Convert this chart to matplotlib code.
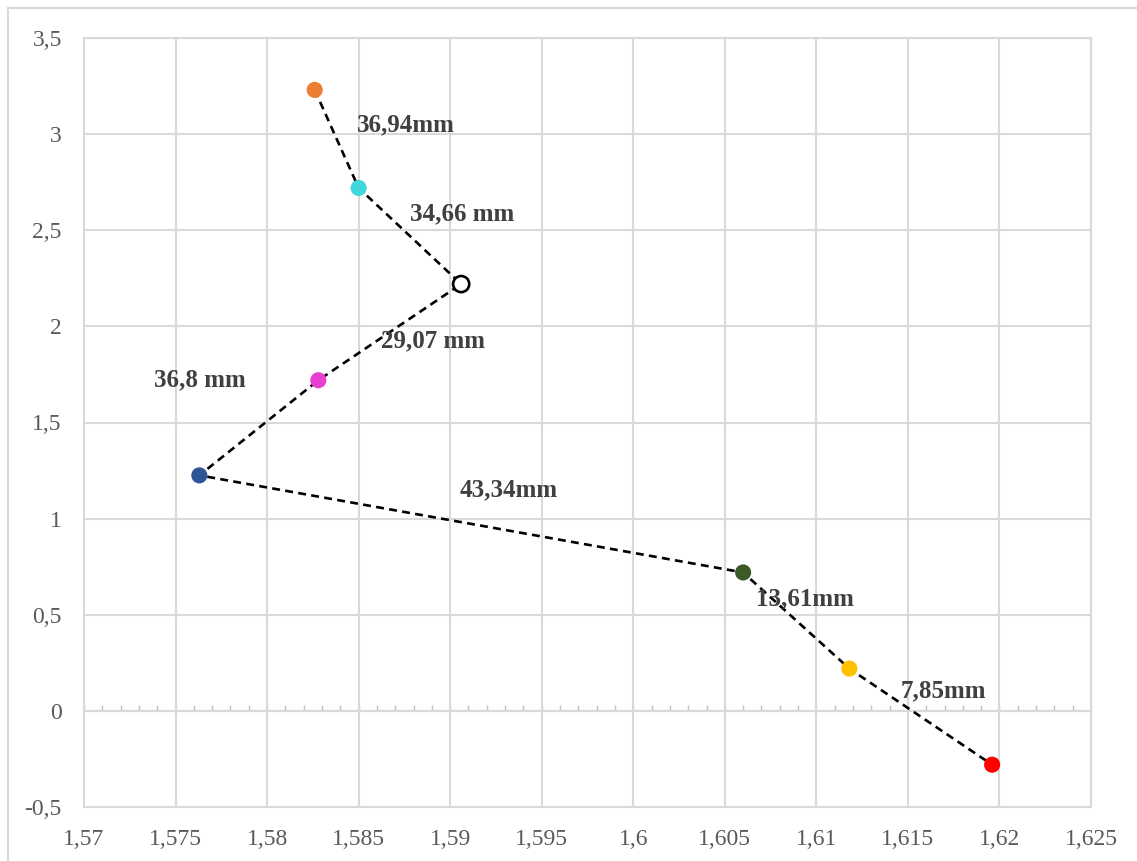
import matplotlib
matplotlib.use("Agg")
import matplotlib.pyplot as plt
from matplotlib.lines import Line2D
from matplotlib.ticker import FixedLocator, MultipleLocator, FuncFormatter

plt.rcParams['font.family'] = ['Liberation Serif', 'DejaVu Serif']

# Measured points along the path (x, y) and their marker colours
point_x = [1.5826, 1.5850, 1.5906, 1.5828, 1.5763, 1.6060, 1.6118, 1.6196]
point_y = [3.23, 2.72, 2.22, 1.72, 1.225, 0.72, 0.22, -0.28]
point_colors = ['#ED7D31', '#3FD6DE', 'white', '#E83FD2', '#2F5597',
                '#3B5A27', '#FFC000', '#FF0000']

# Segment length labels
seg_labels = ['36,94mm', '34,66 mm', '29,07 mm', '36,8 mm',
              '43,34mm', '13,61mm', '7,85mm']
# anchor (left, vertical centre) of each label in data units
label_pos = [(1.5849, 3.05), (1.5878, 2.585), (1.5862, 1.924), (1.5738, 1.721),
             (1.5905, 1.149), (1.6067, 0.582), (1.6146, 0.103)]

x_ticks = [1.57, 1.575, 1.58, 1.585, 1.59, 1.595, 1.6, 1.605, 1.61, 1.615, 1.62, 1.625]
y_ticks = [-0.5, 0, 0.5, 1, 1.5, 2, 2.5, 3, 3.5]

W, H = 1137, 861
fig = plt.figure(figsize=(W / 100, H / 100), dpi=100)
ax = fig.add_axes([84 / W, 1 - 807 / H, (1091 - 84) / W, (807 - 38) / H])

grid_c = '#D9D9D9'
text_c = '#595959'

ax.set_xlim(1.57, 1.625)
ax.set_ylim(-0.5, 3.5)
ax.xaxis.set_major_locator(FixedLocator(x_ticks))
ax.yaxis.set_major_locator(FixedLocator(y_ticks))

def comma_fmt(v, pos):
    s = f"{v:.3f}".rstrip('0').rstrip('.')
    if s == '-0':
        s = '0'
    return s.replace('.', ',')

ax.xaxis.set_major_formatter(FuncFormatter(comma_fmt))
ax.yaxis.set_major_formatter(FuncFormatter(comma_fmt))
ax.grid(True, color=grid_c, linewidth=1.5)
ax.set_axisbelow(True)
for side in ['top', 'right', 'bottom', 'left']:
    ax.spines[side].set_color(grid_c)
    ax.spines[side].set_linewidth(1.5)
ax.tick_params(axis='both', length=0, labelsize=17, colors=text_c)
ax.tick_params(axis='x', pad=16)
ax.tick_params(axis='y', pad=16)

# horizontal axis drawn through y = 0 with small upward ticks
zero_frac = (0 - (-0.5)) / (3.5 - (-0.5))
sec = ax.secondary_xaxis(zero_frac)
sec.spines['bottom'].set_color('#BFBFBF')
sec.spines['bottom'].set_linewidth(1.5)
sec.xaxis.set_major_locator(MultipleLocator(0.005))
sec.xaxis.set_minor_locator(MultipleLocator(0.001))
sec.tick_params(which='both', direction='in', length=4, width=1,
                color='#BFBFBF', labelbottom=False)

# dashed path and markers
ax.plot(point_x, point_y, linestyle=(0, (3, 2)), color='black', linewidth=1.9, zorder=3)
ax.scatter(point_x, point_y, s=135, c=point_colors,
           edgecolors=['black' if c == 'white' else c for c in point_colors],
           linewidths=[1.9 if c == 'white' else 0 for c in point_colors], zorder=4)

for txt, (lx, ly) in zip(seg_labels, label_pos):
    ax.text(lx, ly, txt, ha='left', va='center', fontsize=18,
            fontweight='bold', color='#404040', zorder=5)

# chart area outline
fig.add_artist(Line2D([8 / W, 8 / W], [0, 1 - 8 / H], color=grid_c, linewidth=1.5))
fig.add_artist(Line2D([8 / W, 1], [1 - 8 / H, 1 - 8 / H], color=grid_c, linewidth=1.5))

fig.savefig('out.png', dpi=100)
